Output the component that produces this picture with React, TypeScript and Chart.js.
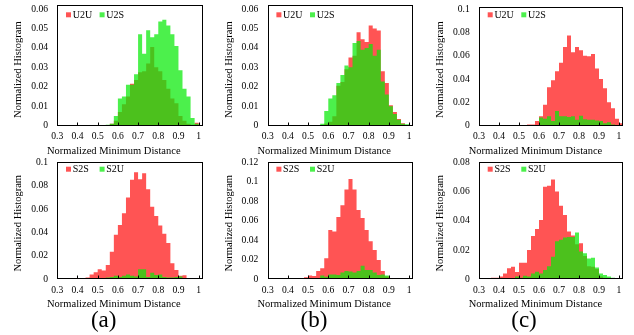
import React, { useEffect, useRef } from 'react';
import { Chart, registerables } from 'chart.js';

Chart.register(...registerables);

// ---- bins / axes ----
const BIN_STARTS = [0.30, 0.32, 0.34, 0.36, 0.38, 0.40, 0.42, 0.44, 0.46, 0.48, 0.50, 0.52, 0.54, 0.56, 0.58, 0.60, 0.62, 0.64, 0.66, 0.68, 0.70, 0.72, 0.74, 0.76, 0.78, 0.80, 0.82, 0.84, 0.86, 0.88, 0.90, 0.92, 0.94, 0.96, 0.98, 1.00];
const BIN_WIDTH = 0.02;
const X_MIN = 0.3;
const X_MAX = 1.02;
const X_TICKS = [0.3, 0.4, 0.5, 0.6, 0.7, 0.8, 0.9, 1.0];

const Y_TICKS_TOP_A = [0, 0.01, 0.02, 0.03, 0.04, 0.05, 0.06];
const Y_TICKS_TOP_B = [0, 0.01, 0.02, 0.03, 0.04, 0.05, 0.06];
const Y_TICKS_TOP_C = [0, 0.02, 0.04, 0.06, 0.08, 0.1];
const Y_TICKS_BOT_A = [0, 0.02, 0.04, 0.06, 0.08, 0.1];
const Y_TICKS_BOT_B = [0, 0.02, 0.04, 0.06, 0.08, 0.1, 0.12];
const Y_TICKS_BOT_C = [0, 0.02, 0.04, 0.06, 0.08];

const X_TITLE = 'Normalized Minimum Distance';
const Y_TITLE = 'Normalized Histogram';
const TOP_LABELS = ['U2U', 'U2S'];
const BOT_LABELS = ['S2S', 'S2U'];
const PANEL_LETTERS = ['(a)', '(b)', '(c)'];

// ---- series (normalized histogram value of each bin) ----
const TOP_A_U2U = [0, 0, 0, 0, 0, 0, 0, 0, 0, 0, 0, 0, 0, 0.001, 0.0025, 0.007, 0.011, 0.015, 0.0215, 0.0235, 0.0275, 0.028, 0.032, 0.0405, 0.030, 0.028, 0.0235, 0.019, 0.014, 0.0115, 0.005, 0.0025, 0.001, 0.0005, 0.0015, 0];
const TOP_A_U2S = [0, 0, 0, 0, 0, 0, 0, 0, 0, 0, 0, 0, 0.0005, 0.001, 0.005, 0.014, 0.015, 0.021, 0.021, 0.0265, 0.047, 0.037, 0.049, 0.0455, 0.047, 0.0535, 0.0545, 0.0515, 0.047, 0.041, 0.0285, 0.019, 0.015, 0.004, 0.001, 0];

const TOP_B_U2U = [0, 0, 0, 0, 0, 0, 0, 0, 0, 0, 0, 0, 0, 0, 0.001, 0.002, 0.0048, 0.0205, 0.0225, 0.029, 0.035, 0.036, 0.048, 0.0445, 0.043, 0.0515, 0.050, 0.049, 0.028, 0.022, 0.0105, 0.007, 0.0035, 0.0013, 0.0003, 0];
const TOP_B_U2S = [0, 0, 0, 0, 0, 0, 0, 0, 0, 0, 0, 0, 0, 0.001, 0.0075, 0.014, 0.0157, 0.022, 0.026, 0.031, 0.030, 0.0425, 0.0435, 0.039, 0.040, 0.042, 0.036, 0.039, 0.0227, 0.016, 0.010, 0.006, 0.003, 0.001, 0.0008, 0];

const TOP_C_U2U = [0, 0, 0, 0, 0, 0, 0, 0, 0, 0, 0, 0, 0.001, 0.001, 0.004, 0.008, 0.018, 0.033, 0.039, 0.0466, 0.054, 0.0674, 0.0774, 0.063, 0.0674, 0.0646, 0.060, 0.0595, 0.0615, 0.049, 0.040, 0.032, 0.020, 0.015, 0.006, 0.002];
const TOP_C_U2S = [0, 0, 0, 0, 0, 0, 0, 0, 0, 0, 0, 0, 0, 0, 0, 0.007, 0.006, 0.008, 0.004, 0.0125, 0.008, 0.008, 0.0075, 0.008, 0.005, 0.0085, 0.0055, 0.005, 0.005, 0.0045, 0.004, 0.002, 0.003, 0.001, 0, 0];

const BOT_A_S2S = [0, 0, 0, 0, 0, 0.001, 0.001, 0.0015, 0.004, 0.006, 0.0085, 0.0075, 0.0122, 0.0236, 0.038, 0.0465, 0.0565, 0.070, 0.085, 0.0915, 0.0855, 0.0906, 0.077, 0.062, 0.054, 0.046, 0.039, 0.031, 0.0137, 0.008, 0.003, 0.0035, 0.001, 0, 0, 0];
const BOT_A_S2U = [0, 0, 0, 0, 0, 0, 0, 0, 0, 0, 0.0005, 0.001, 0.0015, 0.002, 0.003, 0.002, 0.003, 0.004, 0.003, 0.0025, 0.0085, 0.0085, 0.002, 0.0057, 0.0037, 0.004, 0.002, 0.0015, 0.0015, 0.002, 0.0025, 0, 0, 0, 0, 0];

const BOT_B_S2S = [0, 0, 0, 0, 0, 0, 0, 0, 0, 0.002, 0.004, 0.0035, 0.0085, 0.0113, 0.0215, 0.0506, 0.049, 0.064, 0.076, 0.092, 0.103, 0.092, 0.071, 0.063, 0.0506, 0.039, 0.030, 0.0198, 0.0085, 0.003, 0.001, 0, 0, 0, 0, 0];
const BOT_B_S2U = [0, 0, 0, 0, 0, 0, 0, 0, 0, 0, 0, 0.0005, 0.001, 0.004, 0.0027, 0.005, 0.005, 0.0045, 0.007, 0.0085, 0.008, 0.007, 0.0085, 0.014, 0.0095, 0.0095, 0.007, 0.0045, 0.005, 0.004, 0.001, 0, 0, 0, 0, 0];

const BOT_C_S2S = [0, 0, 0.0007, 0.001, 0.001, 0.002, 0.004, 0.0075, 0.0085, 0.005, 0.0114, 0.0114, 0.020, 0.0296, 0.0344, 0.0405, 0.0633, 0.064, 0.0683, 0.060, 0.0503, 0.044, 0.0326, 0.030, 0.024, 0.0246, 0.016, 0.009, 0.0085, 0.007, 0.002, 0.001, 0, 0, 0, 0];
const BOT_C_S2U = [0, 0, 0, 0, 0, 0, 0, 0, 0.0005, 0.002, 0.001, 0.0025, 0.002, 0.004, 0.0052, 0.004, 0.0064, 0.009, 0.0155, 0.026, 0.027, 0.0285, 0.029, 0.029, 0.032, 0.019, 0.0178, 0.0143, 0.0148, 0.008, 0.004, 0.003, 0.002, 0.001, 0, 0];

// ---- styles ----
const RED = 'rgb(255, 84, 84)';
const GREEN = 'rgba(10, 234, 10, 0.73)';
const FONT_FAMILY = '"Liberation Serif", "Times New Roman", serif';
const TICK_FONT = { family: FONT_FAMILY, size: 9.6 };

type Panel = {
  key: string;
  left: number; top: number; width: number; height: number;
  yAxisWidth: number; padTop: number; padRight: number; xAxisHeight: number;
  yMax: number; yTicks: number[];
  labels: string[]; red: number[]; green: number[];
  legendY: number;
};

const COLS = [
  { left: 0, width: 210, yAxisWidth: 57.3, padRight: 7.3 },
  { left: 210, width: 210, yAxisWidth: 57.7, padRight: 6.9 },
  { left: 420, width: 214, yAxisWidth: 59, padRight: 11 },
];

const PANELS: Panel[] = [
  { key: 'ta', ...COLS[0], top: 0, height: 158, padTop: 4.5, xAxisHeight: 32.3, yMax: 0.0623, yTicks: Y_TICKS_TOP_A, labels: TOP_LABELS, red: TOP_A_U2U, green: TOP_A_U2S, legendY: 14.8 },
  { key: 'tb', ...COLS[1], top: 0, height: 158, padTop: 4.7, xAxisHeight: 32.3, yMax: 0.0622, yTicks: Y_TICKS_TOP_B, labels: TOP_LABELS, red: TOP_B_U2U, green: TOP_B_U2S, legendY: 14.8 },
  { key: 'tc', ...COLS[2], top: 0, height: 158, padTop: 6.7, xAxisHeight: 32.3, yMax: 0.102, yTicks: Y_TICKS_TOP_C, labels: TOP_LABELS, red: TOP_C_U2U, green: TOP_C_U2S, legendY: 14.8 },
  { key: 'ba', ...COLS[0], top: 158, height: 157, padTop: 4.3, xAxisHeight: 35.7, yMax: 0.1, yTicks: Y_TICKS_BOT_A, labels: BOT_LABELS, red: BOT_A_S2S, green: BOT_A_S2U, legendY: 11.2 },
  { key: 'bb', ...COLS[1], top: 158, height: 157, padTop: 4.3, xAxisHeight: 35.7, yMax: 0.12, yTicks: Y_TICKS_BOT_B, labels: BOT_LABELS, red: BOT_B_S2S, green: BOT_B_S2U, legendY: 11.2 },
  { key: 'bc', ...COLS[2], top: 158, height: 157, padTop: 4.3, xAxisHeight: 35.7, yMax: 0.08, yTicks: Y_TICKS_BOT_C, labels: BOT_LABELS, red: BOT_C_S2S, green: BOT_C_S2U, legendY: 11.2 },
];

const LEGEND_X = [8.7, 42.3];

const fmt = (v: number | string) => String(+(+v).toFixed(3));

function decorPlugin(p: Panel) {
  return {
    id: 'decor_' + p.key,
    afterDraw(chart: any) {
      const { ctx, chartArea: a } = chart;
      const xs = chart.scales.x;
      ctx.save();
      ctx.strokeStyle = '#000';
      ctx.lineWidth = 1;
      const L = Math.round(a.left) + 0.5;
      const R = Math.round(a.right) - 0.5;
      const T = Math.round(a.top) + 0.5;
      const B = Math.round(a.bottom) - 0.5;
      ctx.strokeRect(L, T, R - L, B - T);
      ctx.beginPath();
      for (const t of xs.ticks) {
        const px = Math.round(xs.getPixelForValue(t.value)) + 0.5;
        ctx.moveTo(px, B);
        ctx.lineTo(px, B - 3);
      }
      ctx.stroke();
      // legend
      ctx.font = '10px ' + FONT_FAMILY;
      ctx.textBaseline = 'middle';
      ctx.textAlign = 'left';
      chart.data.datasets.forEach((ds: any, i: number) => {
        const x0 = a.left + LEGEND_X[i];
        ctx.fillStyle = ds.backgroundColor;
        ctx.fillRect(x0, p.legendY - 2.5, 5, 5);
        ctx.fillStyle = '#000';
        ctx.fillText(ds.label, x0 + 6.7, p.legendY + 0.5);
      });
      // axis titles
      ctx.fillStyle = '#000';
      ctx.font = '10.5px ' + FONT_FAMILY;
      ctx.textAlign = 'center';
      ctx.fillText(X_TITLE, a.left + 56.5, a.bottom + 25.3);
      ctx.translate(a.left - 38.7, a.bottom - 56);
      ctx.rotate(-Math.PI / 2);
      ctx.fillText(Y_TITLE, 0, 0);
      ctx.restore();
    },
  };
}

// histogram outline: value of bin i held from its start to the next bin start
const histPoints = (vals: number[]) => [
  ...BIN_STARTS.map((b, i) => ({ x: b, y: vals[i] })),
  { x: BIN_STARTS[BIN_STARTS.length - 1] + BIN_WIDTH, y: vals[vals.length - 1] },
];

function HistPanel({ p }: { p: Panel }) {
  const ref = useRef<HTMLCanvasElement | null>(null);
  useEffect(() => {
    const canvas = ref.current;
    if (!canvas) return;
    const common = { stepped: 'before', fill: 'origin', pointRadius: 0, borderWidth: 0, borderColor: 'rgba(0,0,0,0)', tension: 0 };
    const chart = new Chart(canvas, {
      type: 'line',
      data: {
        datasets: [
          { ...common, label: p.labels[0], data: histPoints(p.red), backgroundColor: RED, order: 2 } as any,
          { ...common, label: p.labels[1], data: histPoints(p.green), backgroundColor: GREEN, order: 1 } as any,
        ],
      },
      options: {
        responsive: false,
        animation: false,
        events: [],
        layout: { padding: { left: 0, top: p.padTop, right: p.padRight, bottom: 0 } },
        plugins: { legend: { display: false }, tooltip: { enabled: false }, title: { display: false } },
        scales: {
          x: {
            type: 'linear',
            min: X_MIN,
            max: X_MAX,
            offset: false,
            grid: { display: false, drawTicks: false },
            border: { display: false },
            afterBuildTicks: (s: any) => { s.ticks = X_TICKS.map((v) => ({ value: v })); },
            afterFit: (s: any) => { s.height = p.xAxisHeight; s.paddingLeft = 0; s.paddingRight = 0; },
            ticks: { font: TICK_FONT, color: '#000', padding: 5.5, maxRotation: 0, autoSkip: false, callback: (v: any) => fmt(v) },
          },
          y: {
            type: 'linear',
            min: 0,
            max: p.yMax,
            grid: { display: false, drawTicks: false },
            border: { display: false },
            afterBuildTicks: (s: any) => { s.ticks = p.yTicks.map((v) => ({ value: v })); },
            afterFit: (s: any) => { s.width = p.yAxisWidth; s.paddingTop = 0; s.paddingBottom = 0; },
            ticks: { font: TICK_FONT, color: '#000', padding: 9.3, autoSkip: false, callback: (v: any) => fmt(v) },
          },
        },
      } as any,
      plugins: [decorPlugin(p)],
    });
    return () => chart.destroy();
  }, [p]);
  return (
    <canvas
      ref={ref}
      width={p.width}
      height={p.height}
      style={{ position: 'absolute', left: p.left, top: p.top, width: p.width, height: p.height }}
    />
  );
}

const LETTER_CENTERS = [103.7, 314, 524];

export default function App() {
  return (
    <div style={{ position: 'absolute', left: 0, top: 0, width: 634, height: 335, background: '#fff', overflow: 'hidden' }}>
      {PANELS.map((p) => (
        <HistPanel key={p.key} p={p} />
      ))}
      {PANEL_LETTERS.map((t, i) => (
        <div
          key={t}
          style={{
            position: 'absolute',
            left: LETTER_CENTERS[i] - 30,
            top: 308.3,
            width: 60,
            textAlign: 'center',
            fontFamily: FONT_FAMILY,
            fontSize: 23,
            lineHeight: '23px',
            color: '#000',
          }}
        >
          {t}
        </div>
      ))}
    </div>
  );
}
